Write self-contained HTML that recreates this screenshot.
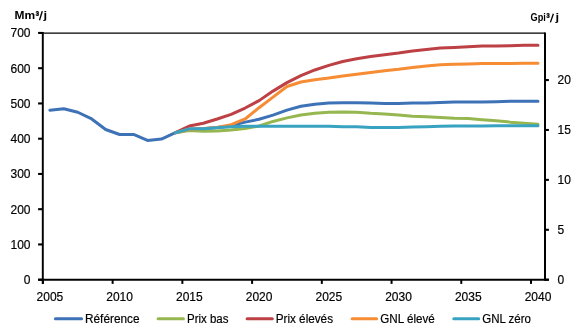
<!DOCTYPE html>
<html><head><meta charset="utf-8"><style>
html,body{margin:0;padding:0;background:#fff;}
svg{display:block;}

svg{filter:opacity(0.999);}
.t{font-family:"Liberation Sans",sans-serif;font-size:12px;fill:#000;stroke:#000;stroke-width:0.18px;}
.b{font-family:"Liberation Sans",sans-serif;font-size:10.8px;font-weight:bold;fill:#000;}
</style></head><body>
<svg width="580" height="333" viewBox="0 0 580 333">
<rect width="580" height="333" fill="#fff"/>
<line x1="43" y1="33.15" x2="545" y2="33.15" stroke="#000" stroke-width="1.15"/>
<line x1="42.8" y1="32" x2="42.8" y2="284" stroke="#000" stroke-width="1.95"/>
<line x1="545" y1="32.6" x2="545" y2="280.8" stroke="#000" stroke-width="2"/>
<line x1="38" y1="279.8" x2="549" y2="279.8" stroke="#000" stroke-width="2.1"/>
<line x1="38.1" y1="279.70" x2="43" y2="279.70" stroke="#000" stroke-width="2.1"/>
<text x="30.5" y="284.00" text-anchor="end" class="t">0</text>
<line x1="38.1" y1="244.45" x2="43" y2="244.45" stroke="#000" stroke-width="2.1"/>
<text x="30.5" y="248.75" text-anchor="end" class="t">100</text>
<line x1="38.1" y1="209.20" x2="43" y2="209.20" stroke="#000" stroke-width="2.1"/>
<text x="30.5" y="213.50" text-anchor="end" class="t">200</text>
<line x1="38.1" y1="173.95" x2="43" y2="173.95" stroke="#000" stroke-width="2.1"/>
<text x="30.5" y="178.25" text-anchor="end" class="t">300</text>
<line x1="38.1" y1="138.70" x2="43" y2="138.70" stroke="#000" stroke-width="2.1"/>
<text x="30.5" y="143.00" text-anchor="end" class="t">400</text>
<line x1="38.1" y1="103.45" x2="43" y2="103.45" stroke="#000" stroke-width="2.1"/>
<text x="30.5" y="107.75" text-anchor="end" class="t">500</text>
<line x1="38.1" y1="68.20" x2="43" y2="68.20" stroke="#000" stroke-width="2.1"/>
<text x="30.5" y="72.50" text-anchor="end" class="t">600</text>
<line x1="38.1" y1="32.95" x2="43" y2="32.95" stroke="#000" stroke-width="2.1"/>
<text x="30.5" y="37.25" text-anchor="end" class="t">700</text>
<line x1="545" y1="279.70" x2="548.9" y2="279.70" stroke="#000" stroke-width="2.1"/>
<text x="557.5" y="284.00" class="t">0</text>
<line x1="545" y1="229.79" x2="548.9" y2="229.79" stroke="#000" stroke-width="2.1"/>
<text x="557.5" y="234.09" class="t">5</text>
<line x1="545" y1="179.88" x2="548.9" y2="179.88" stroke="#000" stroke-width="2.1"/>
<text x="557.5" y="184.18" class="t">10</text>
<line x1="545" y1="129.97" x2="548.9" y2="129.97" stroke="#000" stroke-width="2.1"/>
<text x="557.5" y="134.27" class="t">15</text>
<line x1="545" y1="80.07" x2="548.9" y2="80.07" stroke="#000" stroke-width="2.1"/>
<text x="557.5" y="84.37" class="t">20</text>
<line x1="42.90" y1="279" x2="42.90" y2="283.9" stroke="#000" stroke-width="2"/>
<text x="49.90" y="300.6" text-anchor="middle" class="t">2005</text>
<line x1="112.63" y1="279" x2="112.63" y2="283.9" stroke="#000" stroke-width="2"/>
<text x="119.63" y="300.6" text-anchor="middle" class="t">2010</text>
<line x1="182.36" y1="279" x2="182.36" y2="283.9" stroke="#000" stroke-width="2"/>
<text x="189.36" y="300.6" text-anchor="middle" class="t">2015</text>
<line x1="252.09" y1="279" x2="252.09" y2="283.9" stroke="#000" stroke-width="2"/>
<text x="259.09" y="300.6" text-anchor="middle" class="t">2020</text>
<line x1="321.82" y1="279" x2="321.82" y2="283.9" stroke="#000" stroke-width="2"/>
<text x="328.82" y="300.6" text-anchor="middle" class="t">2025</text>
<line x1="391.55" y1="279" x2="391.55" y2="283.9" stroke="#000" stroke-width="2"/>
<text x="398.55" y="300.6" text-anchor="middle" class="t">2030</text>
<line x1="461.28" y1="279" x2="461.28" y2="283.9" stroke="#000" stroke-width="2"/>
<text x="468.28" y="300.6" text-anchor="middle" class="t">2035</text>
<line x1="531.01" y1="279" x2="531.01" y2="283.9" stroke="#000" stroke-width="2"/>
<text x="538.01" y="300.6" text-anchor="middle" class="t">2040</text>
<polyline points="49.87,110.15 63.82,108.74 77.76,112.26 91.71,118.96 105.65,129.53 119.60,134.47 133.55,134.47 147.49,140.46 161.44,139.05 175.38,132.71 189.33,129.53 203.28,128.83 217.22,127.42 231.17,125.66 245.11,122.13 259.06,119.31 273.01,115.08 286.95,110.15 300.90,106.27 314.84,104.16 328.79,103.10 342.74,102.75 356.68,102.75 370.63,103.10 384.57,103.45 398.52,103.45 412.47,103.10 426.41,103.10 440.36,102.39 454.30,102.04 468.25,102.04 482.20,102.04 496.14,101.69 510.09,101.34 524.03,101.34 537.98,101.34" fill="none" stroke="#3e72b7" stroke-width="3" stroke-linejoin="round" stroke-linecap="round"/>
<polyline points="175.38,132.71 189.33,130.59 203.28,131.30 217.22,130.94 231.17,129.89 245.11,128.48 259.06,126.01 273.01,121.43 286.95,117.90 300.90,115.08 314.84,113.32 328.79,112.26 342.74,111.91 356.68,112.26 370.63,113.32 384.57,114.03 398.52,115.08 412.47,116.14 426.41,116.84 440.36,117.55 454.30,118.25 468.25,118.61 482.20,119.66 496.14,120.72 510.09,122.13 524.03,123.19 537.98,124.25" fill="none" stroke="#96b74f" stroke-width="3" stroke-linejoin="round" stroke-linecap="round"/>
<polyline points="175.38,132.71 189.33,126.01 203.28,123.19 217.22,118.96 231.17,114.38 245.11,108.03 259.06,100.63 273.01,91.11 286.95,82.65 300.90,75.60 314.84,69.96 328.79,65.38 342.74,61.50 356.68,58.68 370.63,56.57 384.57,54.81 398.52,53.04 412.47,50.93 426.41,49.52 440.36,48.11 454.30,47.40 468.25,46.70 482.20,45.99 496.14,45.99 510.09,45.64 524.03,45.29 537.98,45.29" fill="none" stroke="#bd4044" stroke-width="3" stroke-linejoin="round" stroke-linecap="round"/>
<polyline points="175.38,132.71 189.33,129.18 203.28,128.48 217.22,127.42 231.17,124.60 245.11,118.96 259.06,107.68 273.01,97.10 286.95,86.53 300.90,81.95 314.84,79.83 328.79,78.07 342.74,75.96 356.68,74.19 370.63,72.43 384.57,70.67 398.52,69.26 412.47,67.50 426.41,66.09 440.36,64.68 454.30,64.32 468.25,63.97 482.20,63.62 496.14,63.62 510.09,63.62 524.03,63.27 537.98,63.27" fill="none" stroke="#f68c34" stroke-width="3" stroke-linejoin="round" stroke-linecap="round"/>
<polyline points="175.38,132.71 189.33,128.83 203.28,128.83 217.22,127.77 231.17,126.72 245.11,126.36 259.06,126.36 273.01,126.36 286.95,126.36 300.90,126.36 314.84,126.36 328.79,126.36 342.74,126.72 356.68,126.72 370.63,127.42 384.57,127.42 398.52,127.42 412.47,127.07 426.41,126.72 440.36,126.36 454.30,126.01 468.25,126.01 482.20,126.01 496.14,125.66 510.09,125.66 524.03,125.66 537.98,125.66" fill="none" stroke="#38a3c1" stroke-width="3" stroke-linejoin="round" stroke-linecap="round"/>
<text y="18.8" class="b"><tspan x="14.6" textLength="20.6" lengthAdjust="spacingAndGlyphs">Mm</tspan><tspan x="35.4" y="19.6" style="font-size:12.5px;stroke:#000;stroke-width:0.3px" textLength="3.6" lengthAdjust="spacingAndGlyphs">³</tspan><tspan x="43.5" y="18.8" textLength="3.6" lengthAdjust="spacingAndGlyphs">j</tspan></text>
<line x1="39.5" y1="20.3" x2="42.3" y2="11.1" stroke="#000" stroke-width="1.35"/>
<text y="21.2" class="b"><tspan x="530.6" style="font-size:10.3px" textLength="15.3" lengthAdjust="spacingAndGlyphs">Gpi</tspan><tspan x="546.3" y="22.0" style="font-size:12.5px;stroke:#000;stroke-width:0.3px" textLength="3.5" lengthAdjust="spacingAndGlyphs">³</tspan><tspan x="555.5" y="21.2" textLength="3.6" lengthAdjust="spacingAndGlyphs">j</tspan></text>
<line x1="550.4" y1="22.4" x2="553.4" y2="13.8" stroke="#000" stroke-width="1.35"/>
<line x1="55.40" y1="318.8" x2="81.60" y2="318.8" stroke="#3e72b7" stroke-width="3" stroke-linecap="round"/>
<text x="85" y="322.8" class="t" textLength="54.5" lengthAdjust="spacingAndGlyphs">Référence</text>
<line x1="158.10" y1="318.8" x2="183.40" y2="318.8" stroke="#96b74f" stroke-width="3" stroke-linecap="round"/>
<text x="187" y="322.8" class="t" textLength="41.5" lengthAdjust="spacingAndGlyphs">Prix bas</text>
<line x1="247.10" y1="318.8" x2="272.30" y2="318.8" stroke="#bd4044" stroke-width="3" stroke-linecap="round"/>
<text x="275.7" y="322.8" class="t" textLength="57.3" lengthAdjust="spacingAndGlyphs">Prix élevés</text>
<line x1="352.10" y1="318.8" x2="376.60" y2="318.8" stroke="#f68c34" stroke-width="3" stroke-linecap="round"/>
<text x="380.3" y="322.8" class="t" textLength="54.5" lengthAdjust="spacingAndGlyphs">GNL élevé</text>
<line x1="453.80" y1="318.8" x2="478.70" y2="318.8" stroke="#38a3c1" stroke-width="3" stroke-linecap="round"/>
<text x="482.2" y="322.8" class="t" textLength="48.8" lengthAdjust="spacingAndGlyphs">GNL zéro</text>
</svg>
</body></html>
